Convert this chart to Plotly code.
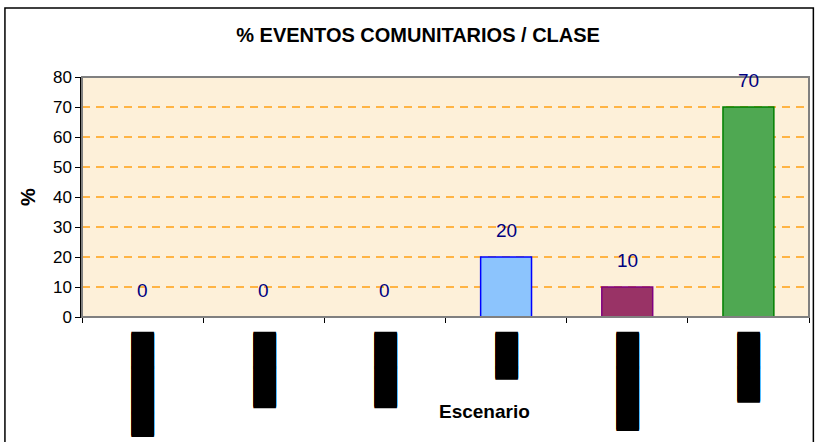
import plotly.graph_objects as go

# categories (real names are redacted in the source, shown as black bars)
categories = ["E1", "E2", "E3", "E4", "E5", "E6"]
tick_labels = ["█████████", "██████▌", "██████▌", "████", "████████▌", "██████"]
values = [0, 0, 0, 20, 10, 70]
bar_colors = ["#7fb2ff", "#7fb2ff", "#7fb2ff", "#8cc4fd", "#993366", "#4fa852"]
line_colors = ["#0000ff", "#0000ff", "#0000ff", "#0000ff", "#800080", "#008000"]

fig = go.Figure()
fig.add_trace(go.Bar(
    x=categories, y=values,
    marker=dict(color=bar_colors, line=dict(color=line_colors, width=1.5)),
    showlegend=False,
))

# value labels sit well above each bar, like the spreadsheet chart
for c, v in zip(categories, values):
    fig.add_annotation(x=c, y=v, text=str(v), showarrow=False, yshift=27,
                       font=dict(family="Liberation Sans, Arial", size=19, color="#000080"))

fig.add_annotation(x=0.553, y=-0.446, xref="paper", yref="paper", text="<b>Escenario</b>",
                   showarrow=False, font=dict(family="Liberation Sans, Arial", size=19, color="black"))

# plot area frame and outer chart border
fig.add_shape(type="rect", xref="x domain", yref="y domain", x0=0, x1=1, y0=0, y1=1,
              line=dict(color="#808080", width=2), layer="above")
fig.add_shape(type="rect", xref="paper", yref="paper", x0=-0.106, x1=1.006, y0=-0.6, y1=1.288,
              line=dict(color="black", width=1.5))

fig.update_layout(
    width=815, height=442,
    margin=dict(l=82, r=6, t=77, b=125, autoexpand=False),
    paper_bgcolor="white", plot_bgcolor="#fdf0d9",
    bargap=0.58,
    title=dict(text="<b>% EVENTOS COMUNITARIOS / CLASE</b>", x=0.513, xanchor="center",
               y=0.92, yanchor="middle",
               font=dict(family="Liberation Sans, Arial", size=20, color="black")),
    font=dict(family="Liberation Sans, Arial", size=17, color="black"),
)
fig.update_xaxes(
    tickvals=categories, ticktext=tick_labels, tickangle=90, automargin=False,
    tickfont=dict(family="DejaVu Sans Mono", size=19, color="black",
                  shadow="1px 0px 0px black, -1px 0px 0px black"),
    showline=True, linecolor="black", linewidth=1,
    ticks="outside", tickson="boundaries", ticklen=5, tickcolor="black",
    ticklabelstandoff=11, showgrid=False,
)
fig.update_yaxes(
    range=[0, 80], dtick=10, showline=True, linecolor="black", linewidth=1.5,
    ticks="outside", ticklen=5, tickcolor="black", automargin=False,
    tickfont=dict(size=17),
    showgrid=True, gridcolor="#ffb444", gridwidth=1.5, griddash="8px,6px",
    title=dict(text="<b>%</b>", standoff=12, font=dict(size=20)),
    zeroline=False,
)

fig.write_html("out.html", config={"displayModeBar": False},
               post_script="document.body.style.margin='0px';")
